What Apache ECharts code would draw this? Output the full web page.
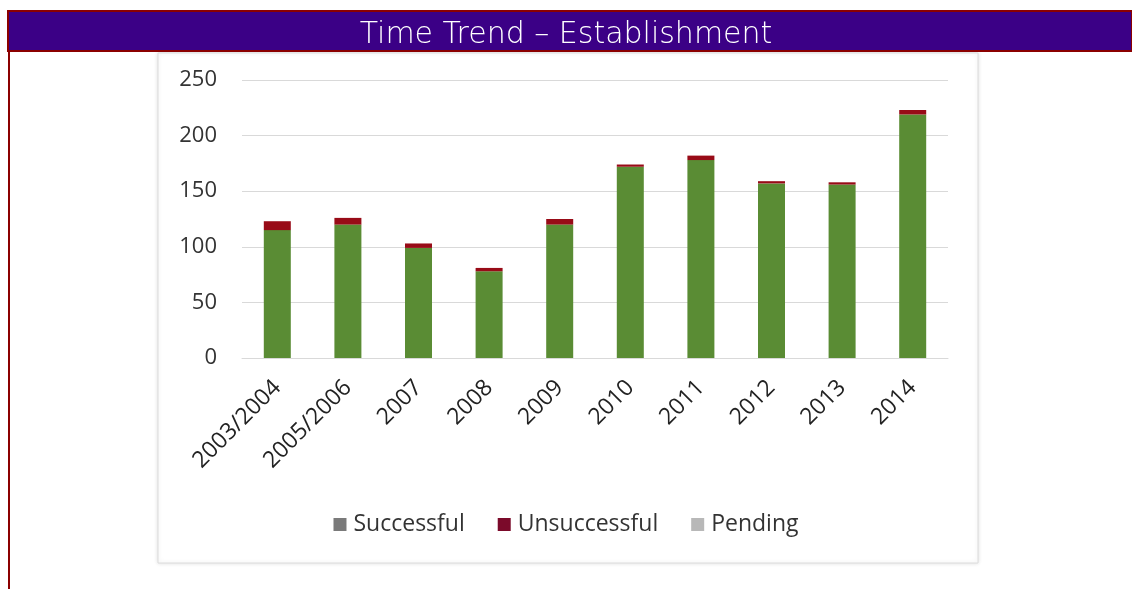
<!DOCTYPE html>
<html>
<head>
<meta charset="utf-8">
<script src="https://cdn.jsdelivr.net/npm/echarts@6/dist/echarts.min.js"></script>
<style>
html,body{margin:0;padding:0;background:#fff;}
#c{width:1132px;height:589px;}
</style>
</head>
<body>
<div id="c"></div>
<script>
var titleText = 'Time Trend \u2013 Establishment';
var categories = ['2003/2004','2005/2006','2007','2008','2009','2010','2011','2012','2013','2014'];
var successful = [115,120,99,78,120,172,178,157,156,219];
var unsuccessful = [8,6,4,3,5,2,4,2,2,4];
var pending = [0,0,0,0,0,0,0,0,0,0];
var yTicks = [0,50,100,150,200,250];

var chart = echarts.init(document.getElementById('c'), null, {renderer:'canvas'});
var font = 'Open Sans';
chart.setOption({
  animation:false,
  backgroundColor:'#fff',
  graphic:[
    {type:'rect', shape:{x:8,y:11,width:1124,height:40}, style:{fill:'#3b0086', stroke:'#8b0000', lineWidth:2}, z:0},
    {type:'line', shape:{x1:9,y1:51,x2:9,y2:589}, style:{stroke:'#8b0000', lineWidth:2}, z:0},
    {type:'rect', shape:{x:158,y:53,width:820,height:510}, style:{fill:'#fff', stroke:'#dcdcdc', lineWidth:1, shadowBlur:4, shadowColor:'rgba(0,0,0,0.12)'}, z:-1}
  ],
  title:{
    text:titleText, left:'center', top:15,
    textStyle:{color:'#fff', fontFamily:'DejaVu Sans', fontWeight:200, fontSize:30}
  },
  grid:{left:242, right:184, top:80, bottom:231, containLabel:false},
  legend:{
    top:508, left:'center', itemWidth:13, itemHeight:13, itemGap:33,
    icon:'rect',
    textStyle:{fontFamily:font, fontSize:23, color:'#333', padding:[0,0,0,2]},
    data:[
      {name:'Successful', itemStyle:{color:'#7a7a7a'}},
      {name:'Unsuccessful', itemStyle:{color:'#7b0a2a'}},
      {name:'Pending', itemStyle:{color:'#b8b8b8'}}
    ]
  },
  xAxis:{
    type:'category', data:categories,
    axisLine:{lineStyle:{color:'#d9d9d9'}},
    axisTick:{show:false},
    axisLabel:{rotate:45, margin:26, fontFamily:font, fontSize:23, color:'#222', interval:0}
  },
  yAxis:{
    type:'value', min:0, max:250, interval:50,
    axisLine:{show:false}, axisTick:{show:false},
    splitLine:{lineStyle:{color:'#d9d9d9'}},
    axisLabel:{margin:25, fontFamily:font, fontSize:22, color:'#333'}
  },
  series:[
    {name:'Successful', type:'bar', stack:'t', data:successful, barWidth:27, itemStyle:{color:'#5a8c34'}},
    {name:'Unsuccessful', type:'bar', stack:'t', data:unsuccessful, barWidth:27, itemStyle:{color:'#980b17'}},
    {name:'Pending', type:'bar', stack:'t', data:pending, barWidth:27, itemStyle:{color:'#b8b8b8'}}
  ]
});
</script>
</body>
</html>
